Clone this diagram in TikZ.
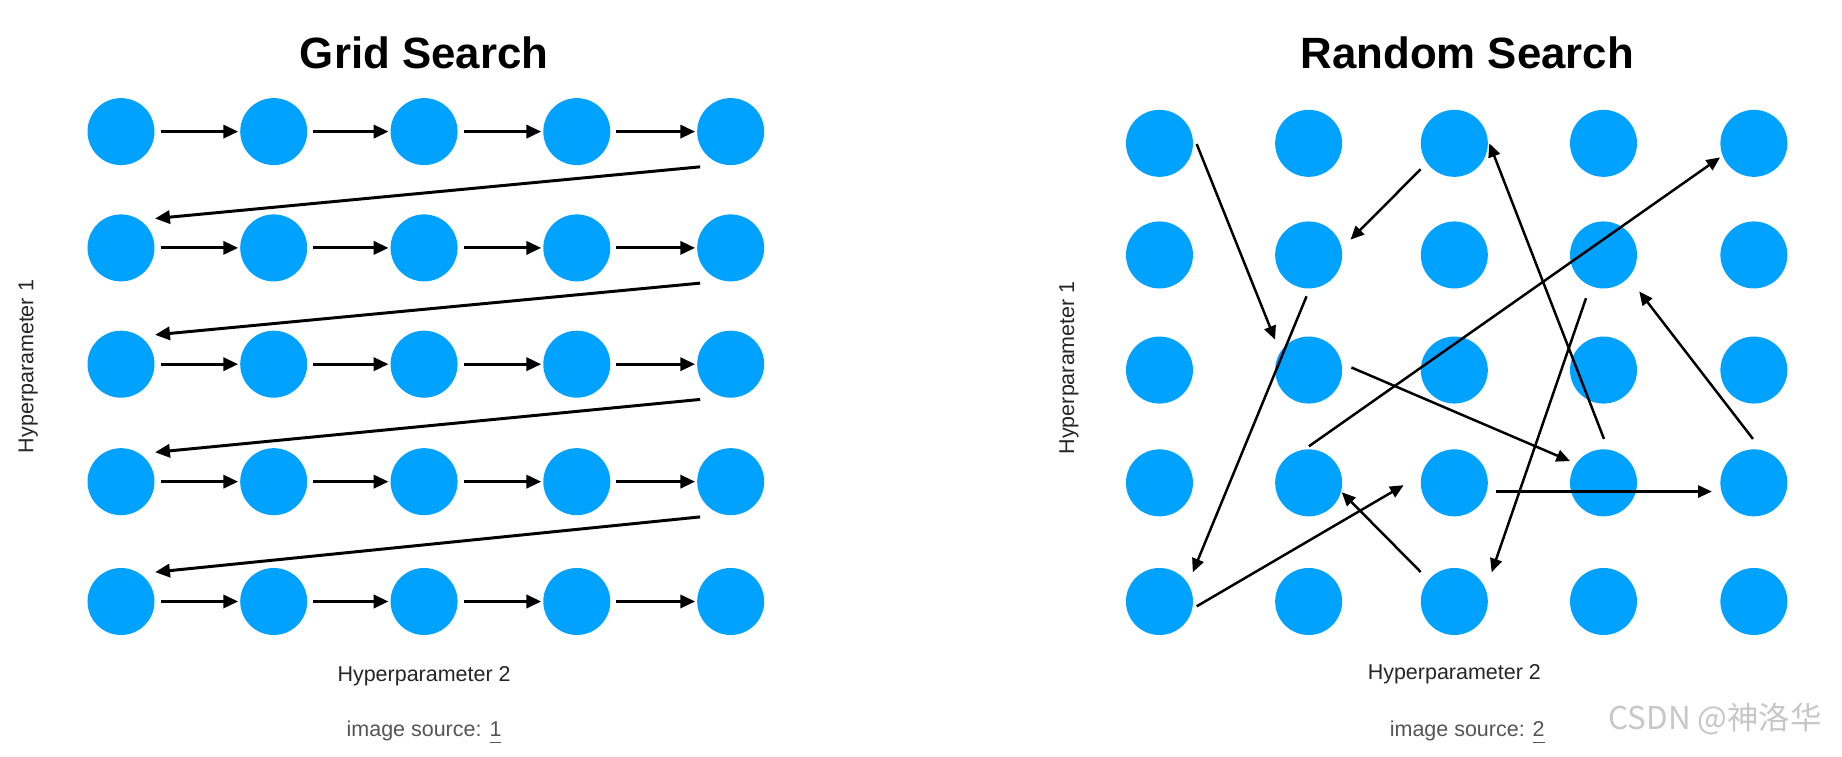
\documentclass[tikz,border=0pt]{standalone}
\usepackage{fontspec}
\setmainfont{Liberation Sans}
\newfontfamily\cjkfont{Noto Sans CJK SC}
\usetikzlibrary{arrows.meta}
\definecolor{dotblue}{HTML}{00A2FF}
\definecolor{srcgray}{HTML}{555555}
\begin{document}
\begin{tikzpicture}[x=0.01cm,y=-0.01cm,
  dot/.style={circle,fill=dotblue,minimum size=0.57cm,inner sep=0pt},
  garrow/.style={line width=0.72pt,-{Triangle[length=3.6pt,width=3.2pt]}},
  rarrow/.style={line width=0.6pt,-{Triangle[length=3.3pt,width=2.9pt]}},
  title/.style={font=\bfseries\fontsize{10.6}{12}\selectfont},
  axis/.style={font=\fontsize{5.2}{6}\selectfont, text=black!85},
  src/.style={font=\fontsize{5.2}{6}\selectfont, text=srcgray}]
\fill[white] (0,0) rectangle (1568,644);
\useasboundingbox (0,0) rectangle (1568,644);

% Grid search dots
\foreach \r/\y in {1/112,2/211,3/310,4/410,5/512}
  \foreach \c/\x in {1/103,2/233,3/361,4/491,5/622}
    \node[dot] (g\r\c) at (\x,\y) {};
% row arrows
\foreach \r in {1,...,5}
  \foreach \c/\d in {1/2,2/3,3/4,4/5}
    \draw[garrow,shorten <=1.3pt,shorten >=0.3pt] (g\r\c.east) -- (g\r\d.west);
% return arrows
\foreach \r/\d in {1/2,2/3,3/4,4/5}
  \draw[garrow] ([shift={(-26,30)}]g\r5.center) -- ([shift={(29,-25)}]g\d1.center);

% Random search dots
\foreach \r/\y in {1/122,2/217,3/315,4/411,5/512}
  \foreach \c/\x in {1/987,2/1114,3/1238,4/1365,5/1493}
    \node[dot] (r\r\c) at (\x,\y) {};
% random arrows
\draw[rarrow] ([shift={(31.7,0.6)}]r11.center) -- ([shift={(-28.6,-25.9)}]r32.center);
\draw[rarrow] ([shift={(-28.7,22.1)}]r13.center) -- ([shift={(35.6,-13)}]r22.center);
\draw[rarrow] ([shift={(0.4,-37.4)}]r44.center) -- ([shift={(29.8,0)}]r13.center);
\draw[rarrow] ([shift={(0.2,-31.1)}]r42.center) -- ([shift={(-28.8,12)}]r15.center);
\draw[rarrow] ([shift={(-1.8,35.2)}]r22.center) -- ([shift={(28.4,-24.9)}]r51.center);
\draw[rarrow] ([shift={(-14.9,36.8)}]r24.center) -- ([shift={(31.8,-24.9)}]r53.center);
\draw[rarrow] ([shift={(-0.8,-37.4)}]r45.center) -- ([shift={(30.4,31.1)}]r24.center);
\draw[rarrow] ([shift={(36.4,-2.2)}]r32.center) -- ([shift={(-28.5,-18.5)}]r44.center);
\draw[rarrow] ([shift={(35.1,7.4)}]r43.center) -- ([shift={(-35.8,7.4)}]r45.center);
\draw[rarrow] ([shift={(31.7,4.1)}]r51.center) -- ([shift={(-43.1,2)}]r43.center);
\draw[rarrow] ([shift={(-28.7,-25.2)}]r53.center) -- ([shift={(28.2,8)}]r42.center);

% texts
\node[title] (gt) at (361,45) {Grid Search};
\node[title] (rt) at (1249,45) {Random Search};
\node[axis] (gx) at (361,576) {Hyperparameter 2};
\node[axis] (rx) at (1238,574) {Hyperparameter 2};
\node[axis,rotate=90] (gy) at (24,312) {Hyperparameter 1};
\node[axis,rotate=90] (ry) at (910,313) {Hyperparameter 1};
\node[src] (gs) at (361,624) {image source: \underline{1}};
\node[src] (rs) at (1249,624) {image source: \underline{2}};
\node[font=\cjkfont\fontsize{7.6}{9}\selectfont, text=black!22] (wm) at (1460,612) {CSDN @神洛华};
\end{tikzpicture}
\end{document}
